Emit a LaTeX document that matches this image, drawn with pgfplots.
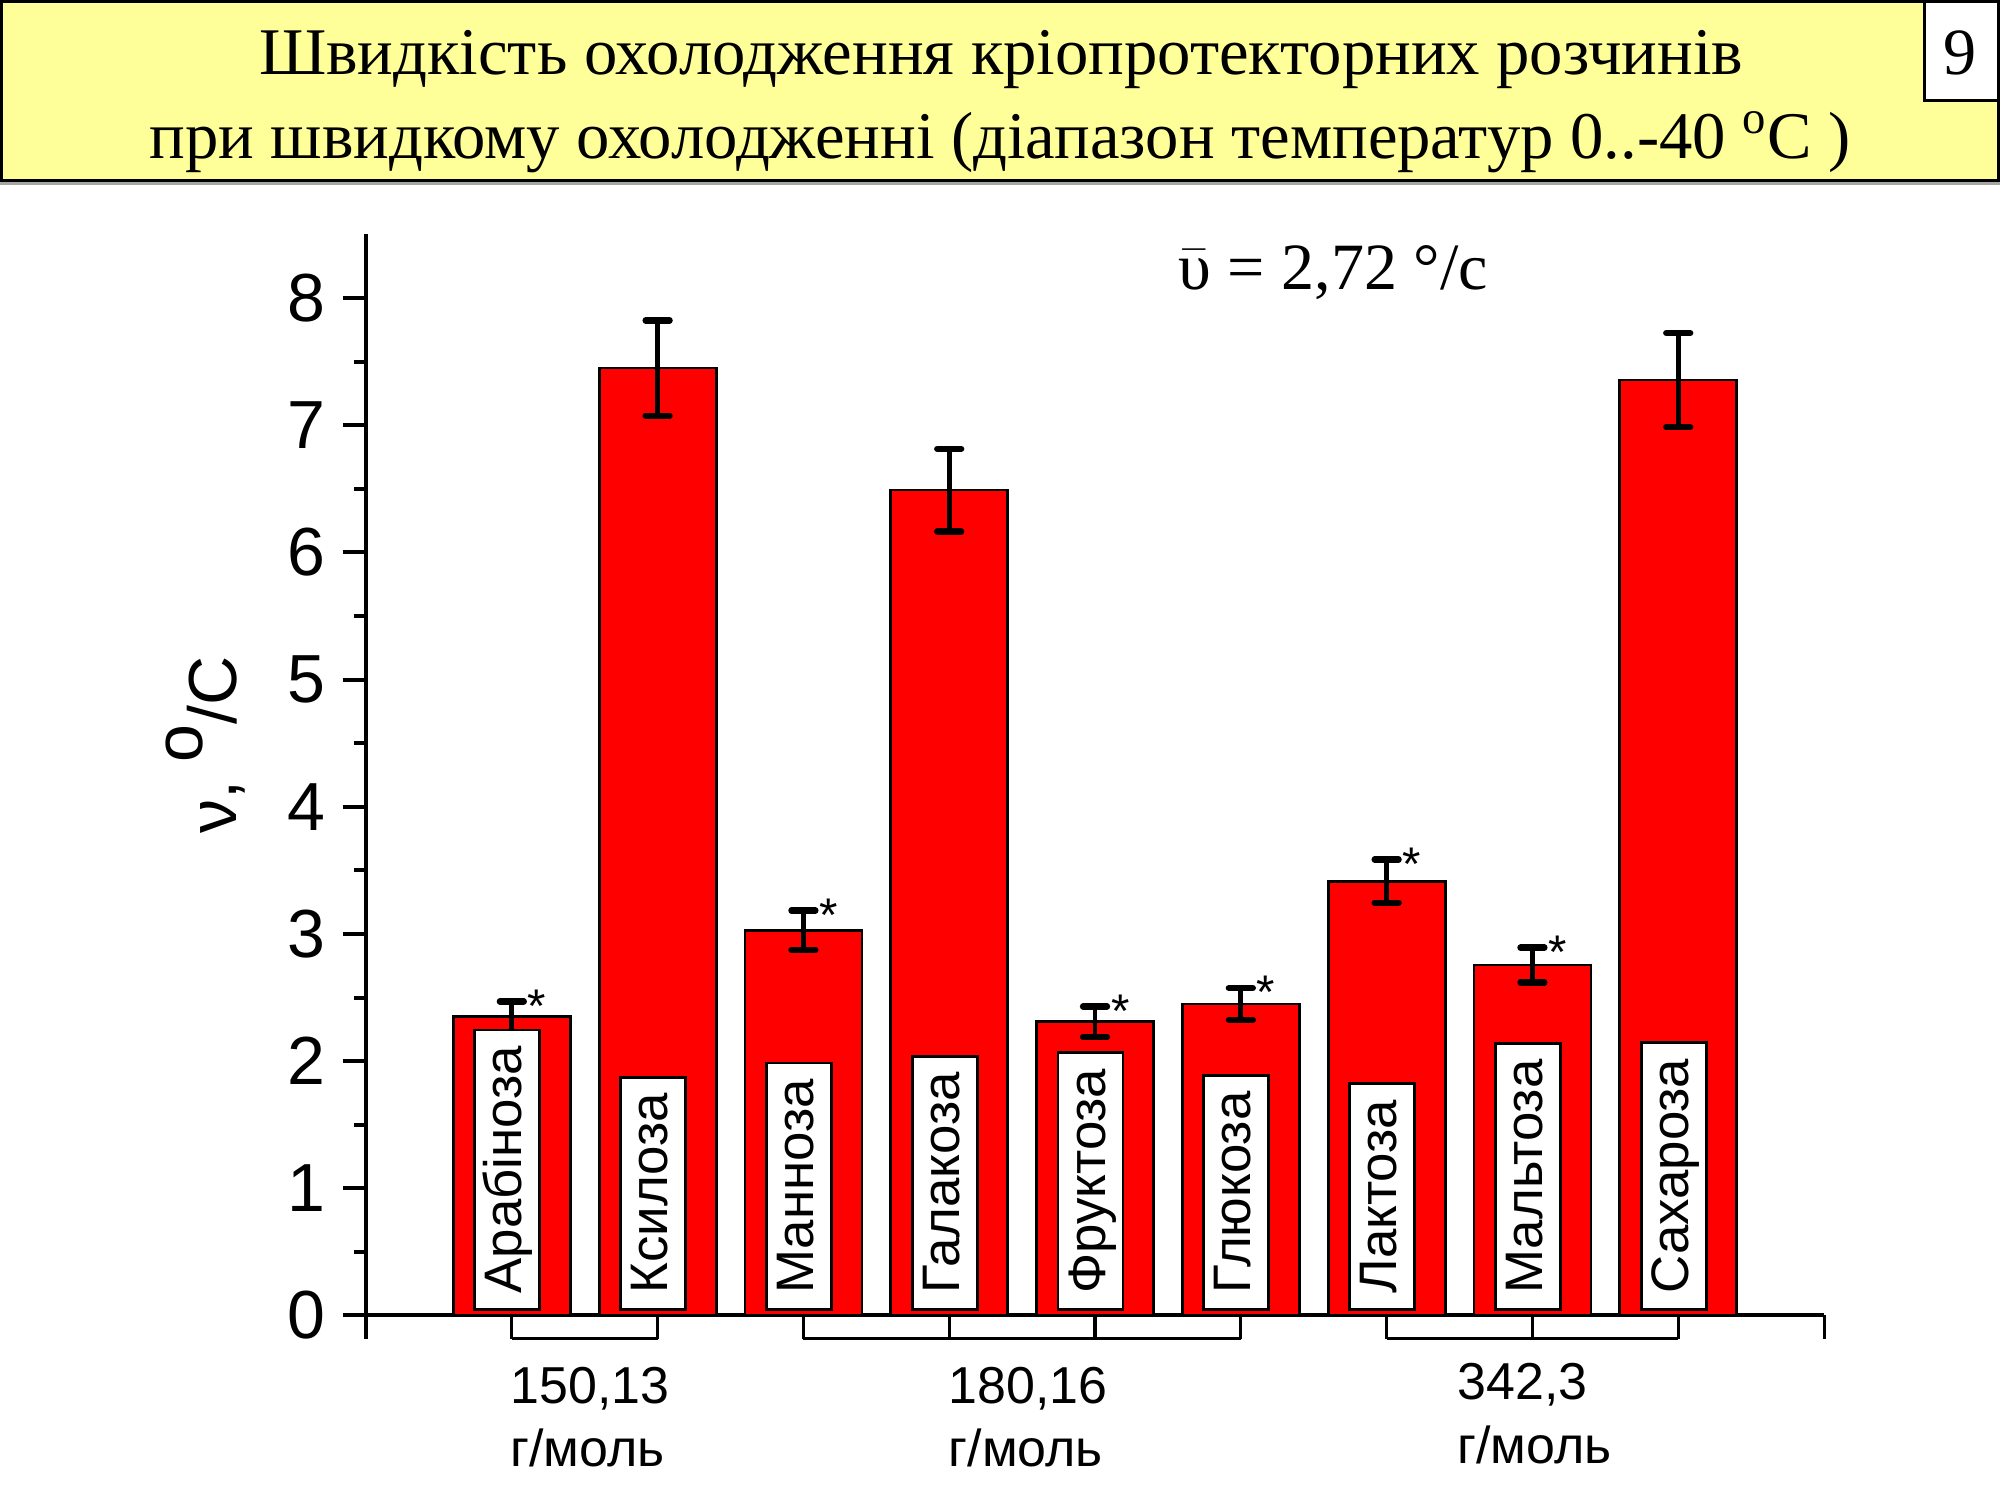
\documentclass[border=0pt]{standalone}
\usepackage{fontspec}
\setmainfont{Liberation Sans}
\newfontfamily\tnr{Liberation Serif}
\usepackage{pgfplots}
\usepackage{pgfplotstable}
\pgfplotsset{compat=1.18}
\definecolor{titleyellow}{RGB}{255,255,153}
\definecolor{barred}{RGB}{255,0,0}

\pgfplotstableread{
x y e
1 2.35 0.12
2 7.45 0.375
3 3.03 0.155
4 6.49 0.325
5 2.31 0.12
6 2.45 0.125
7 3.415 0.17
8 2.755 0.137
9 7.355 0.37
}\datatable

\begin{document}
\begin{tikzpicture}[x=1bp,y=1bp,
  lab/.style={rotate=90, anchor=west, draw=black, line width=1bp, fill=white,
    font=\fontsize{19bp}{19bp}\selectfont, inner xsep=5.8bp, inner ysep=2.5bp,
    text height=14.4bp, text depth=4bp},
  star/.style={anchor=base west, inner sep=0pt, font=\fontsize{17bp}{17bp}\selectfont},
  grp/.style={anchor=base west, inner sep=0pt, font=\fontsize{18.7bp}{18.7bp}\selectfont}]
\path[use as bounding box, fill=white] (0,0) rectangle (720,540);
% title box
\fill[black!35] (0,473.4) rectangle (720,474.5);
\draw[line width=1.08bp, fill=titleyellow] (0.54,475.0) rectangle (719.46,539.46);
\draw[line width=1.08bp, fill=white] (692.8,503.8) rectangle (719.46,539.46);
\node[font=\tnr\fontsize{23.8bp}{24bp}\selectfont, anchor=base, inner sep=0pt] at (705.6,513) {9};
\node[font=\tnr\fontsize{24bp}{24bp}\selectfont, anchor=base, inner sep=0pt] at (360.4,513)
  {Швидкість охолодження кріопротекторних розчинів};
\node[font=\tnr\fontsize{24bp}{24bp}\selectfont, anchor=base, inner sep=0pt] at (360,482.8)
  {при швидкому охолодженні (діапазон температур 0..-40 \textsuperscript{o}C )};

\begin{axis}[
  at={(131.76bp,66.42bp)}, anchor=south west,
  scale only axis, width=524.88bp, height=389.16bp,
  xmin=0, xmax=10, ymin=0, ymax=8.5,
  clip=false,
  axis x line=bottom, axis y line=left,
  axis line style={-, line width=1.44bp},
  tick align=outside,
  xtick={0,1,...,10}, xticklabels={},
  ytick={0,1,...,8}, minor y tick num=1,
  major tick length=8.4bp, minor tick length=4.3bp,
  xtick style={line width=1.1bp, black},
  ytick style={line width=1.44bp, black},
  minor y tick style={line width=1.44bp, black},
  /pgf/number format/assume math mode=true,
  yticklabel style={font=\fontsize{24.5bp}{24.5bp}\selectfont, inner sep=0pt, xshift=-6bp},
]
\addplot[ybar, bar width=42.12bp, bar shift=0pt, fill=barred, draw=black, line width=1bp,
  error bars/.cd, y dir=both, y explicit,
  error bar style={line width=1.7bp, black, solid},
  error mark options={line width=2.3bp, mark size=4.3bp, rotate=90, black, line cap=round}]
  table[x=x, y=y, y error=e] {\datatable};

\node[lab] at ([xshift=-1.6bp,yshift=1.6bp]axis cs:1,0) {Арабіноза};
\node[lab] at ([xshift=-1.6bp,yshift=1.6bp]axis cs:2,0) {Ксилоза};
\node[lab] at ([xshift=-1.6bp,yshift=1.6bp]axis cs:3,0) {Манноза};
\node[lab] at ([xshift=-1.6bp,yshift=1.6bp]axis cs:4,0) {Галакоза};
\node[lab] at ([xshift=-1.6bp,yshift=1.6bp]axis cs:5,0) {Фруктоза};
\node[lab] at ([xshift=-1.6bp,yshift=1.6bp]axis cs:6,0) {Глюкоза};
\node[lab] at ([xshift=-1.6bp,yshift=1.6bp]axis cs:7,0) {Лактоза};
\node[lab] at ([xshift=-1.6bp,yshift=1.6bp]axis cs:8,0) {Мальтоза};
\node[lab] at ([xshift=-1.6bp,yshift=1.6bp]axis cs:9,0) {Сахароза};

\node[star] at ([xshift=5.6bp,yshift=-7.5bp]axis cs:1,2.47) {*};
\node[star] at ([xshift=5.6bp,yshift=-7.5bp]axis cs:3,3.185) {*};
\node[star] at ([xshift=5.6bp,yshift=-7.5bp]axis cs:5,2.43) {*};
\node[star] at ([xshift=5.6bp,yshift=-7.5bp]axis cs:6,2.575) {*};
\node[star] at ([xshift=5.6bp,yshift=-7.5bp]axis cs:7,3.585) {*};
\node[star] at ([xshift=5.6bp,yshift=-7.5bp]axis cs:8,2.892) {*};

\draw[line width=1.1bp] ([yshift=-8.4bp]axis cs:1,0) -- ([yshift=-8.4bp]axis cs:2,0);
\draw[line width=1.1bp] ([yshift=-8.4bp]axis cs:3,0) -- ([yshift=-8.4bp]axis cs:6,0);
\draw[line width=1.1bp] ([yshift=-8.4bp]axis cs:7,0) -- ([yshift=-8.4bp]axis cs:9,0);
\end{axis}

\node[rotate=90, anchor=base, inner sep=0pt, font=\fontsize{24.5bp}{24.5bp}\selectfont] at (85.3,271.8)
  {ν, \raisebox{0.5em}{o}/С};
\node[anchor=base west, inner sep=0pt, font=\tnr\fontsize{23.8bp}{24bp}\selectfont] at (424,435.6)
  {$\bar{\hbox{\tnr υ}}$ = 2,72 °/с};

\node[grp] at (183.6,34.56) {150,13};
\node[grp] at (183.6,11.88) {г/моль};
\node[grp] at (341.3,34.56) {180,16};
\node[grp] at (341.3,11.88) {г/моль};
\node[grp] at (524.5,36.0) {342,3};
\node[grp] at (524.5,13.0) {г/моль};
\end{tikzpicture}
\end{document}
